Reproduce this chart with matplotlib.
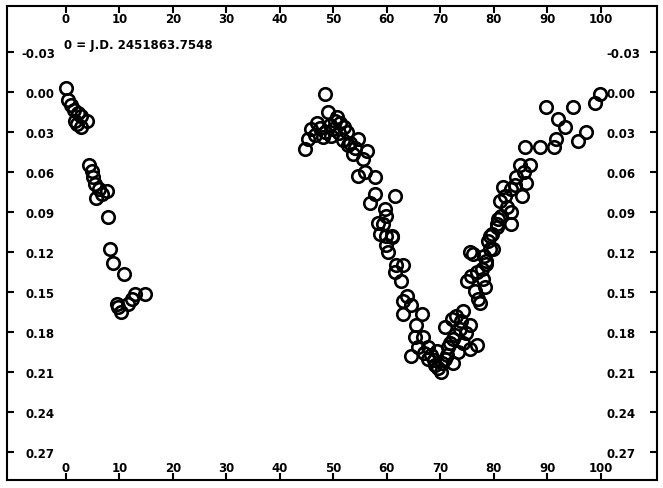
import matplotlib
matplotlib.use("Agg")
import matplotlib.pyplot as plt
from matplotlib import transforms

# phase (percent) and differential magnitude
phase_a = [0.0, 0.43, 0.88, 1.5, 2.3, 2.9, 3.9, 1.8, 2.9, 2.0,
           4.35, 4.8, 5.1, 5.4, 6.2, 7.6, 5.7, 6.7,
           7.9, 8.2, 8.8, 10.8,
           9.5, 9.8, 10.4, 11.6, 12.3, 12.9, 14.8]
mag_a = [-0.003, 0.006, 0.010, 0.0135, 0.016, 0.018, 0.0215, 0.022, 0.0265, 0.024,
         0.0545, 0.059, 0.064, 0.069, 0.073, 0.074, 0.0795, 0.0765,
         0.094, 0.118, 0.128, 0.1365,
         0.159, 0.161, 0.165, 0.159, 0.155, 0.1515, 0.1515]

phase_b = [48.4, 49.0, 46.9, 45.9, 45.3, 44.7, 48.1, 50.0, 51.2, 50.6,
           49.3, 52.5, 54.6, 52.8, 53.7, 56.2, 55.6, 54.6, 55.9, 57.8,
           57.8, 56.8, 61.5, 59.6, 59.9, 58.4, 58.7, 60.9, 59.9,
           47.5, 48.5, 49.5, 51.0, 51.8, 50.3, 52.0, 46.5, 53.2, 54.0]
mag_b = [0.0015, 0.015, 0.023, 0.028, 0.035, 0.043, 0.034, 0.028, 0.023, 0.019,
         0.025, 0.030, 0.035, 0.040, 0.0465, 0.044, 0.050, 0.063, 0.060, 0.064,
         0.0765, 0.083, 0.078, 0.088, 0.093, 0.098, 0.1065, 0.108, 0.115,
         0.027, 0.030, 0.033, 0.031, 0.036, 0.022, 0.026, 0.032, 0.038, 0.042]

phase_c = [59.3, 59.9, 60.9, 60.2, 61.8, 63.1, 61.5, 62.7, 63.7, 63.1,
           63.1, 64.6, 66.5, 65.5, 65.2, 66.8, 64.6, 65.9, 67.7, 69.3,
           67.7, 69.0, 70.2, 70.8, 71.5, 70.8, 72.1, 73.0, 74.3, 75.5,
           73.6, 72.4, 74.3, 73.3, 75.5, 76.8, 72.4,
           68.2, 68.8, 69.6, 70.4, 67.0, 71.2, 72.8, 73.8, 74.8, 71.8]
mag_c = [0.099, 0.108, 0.109, 0.120, 0.130, 0.130, 0.135, 0.1415, 0.153, 0.1565,
         0.1665, 0.160, 0.1665, 0.175, 0.184, 0.184, 0.198, 0.1915, 0.1915, 0.194,
         0.200, 0.205, 0.210, 0.200, 0.1915, 0.1765, 0.170, 0.168, 0.164, 0.175,
         0.178, 0.185, 0.188, 0.195, 0.193, 0.190, 0.203,
         0.197, 0.201, 0.207, 0.203, 0.196, 0.197, 0.182, 0.172, 0.181, 0.188]

phase_d = [75.5, 74.9, 75.8, 76.8, 78.0, 76.4, 78.3, 77.1, 77.4, 78.6,
           79.3, 79.3, 80.5,
           99.8, 98.9, 89.8, 94.8, 92.0, 93.3, 97.3, 95.8, 91.7, 91.2, 88.6,
           85.8, 86.7, 84.9, 84.2, 86.1, 81.8, 83.3, 85.2, 81.1, 82.4, 83.3,
           81.4, 83.3, 80.5, 79.6, 79.9, 78.6, 77.7, 76.1,
           80.8, 82.0, 84.0, 79.0, 78.2, 85.6]
mag_d = [0.120, 0.1415, 0.138, 0.135, 0.140, 0.149, 0.1465, 0.155, 0.158, 0.129,
         0.118, 0.108, 0.099,
         0.0015, 0.008, 0.0115, 0.0115, 0.020, 0.0265, 0.030, 0.0365, 0.035, 0.0415, 0.0415,
         0.0415, 0.055, 0.055, 0.064, 0.068, 0.0715, 0.073, 0.078, 0.0815, 0.0865, 0.090,
         0.093, 0.099, 0.1015, 0.1065, 0.118, 0.1265, 0.133, 0.1215,
         0.095, 0.078, 0.070, 0.112, 0.123, 0.060]

phase = phase_a + phase_b + phase_c + phase_d
mag = mag_a + mag_b + mag_c + mag_d

x_ticks = [0, 10, 20, 30, 40, 50, 60, 70, 80, 90, 100]
y_ticks = [-0.03, 0.00, 0.03, 0.06, 0.09, 0.12, 0.15, 0.18, 0.21, 0.24, 0.27]
y_labels = ["-0.03", "0.00", "0.03", "0.06", "0.09", "0.12", "0.15", "0.18", "0.21", "0.24", "0.27"]

plt.rcParams['font.family'] = ['DejaVu Sans']
plt.rcParams['font.weight'] = 'bold'

fig = plt.figure(figsize=(6.63, 4.89), dpi=100)
ax = fig.add_axes([7 / 663, 8 / 489, 650 / 663, 474 / 489])

ax.plot(phase, mag, 'o', ms=9, mfc='none', mec='black', mew=1.9)

ax.set_xlim(-11.0, 110.5)
ax.set_ylim(0.291, -0.0645)

ax.set_xticks(x_ticks)
ax.set_yticks(y_ticks)
ax.set_yticklabels(y_labels)

for sp in ax.spines.values():
    sp.set_linewidth(1.5)

# ticks point inward on all four sides, labels sit inside the frame
ax.tick_params(axis='both', direction='in', length=5, width=1.5, labelsize=8.5,
               top=True, right=True, labeltop=True, labelright=True)
ax.tick_params(axis='x', pad=-13.5)
ax.tick_params(axis='y', pad=-34.5)

for t in ax.yaxis.get_major_ticks():
    t.label2.set_transform(t.label2.get_transform() + transforms.ScaledTranslation(-3 / 100, 0, fig.dpi_scale_trans))

ax.text(-0.4, -0.036, "0 = J.D. 2451863.7548", fontsize=8.5, fontweight='bold',
        ha='left', va='center')

fig.savefig("out.png", dpi=100)
